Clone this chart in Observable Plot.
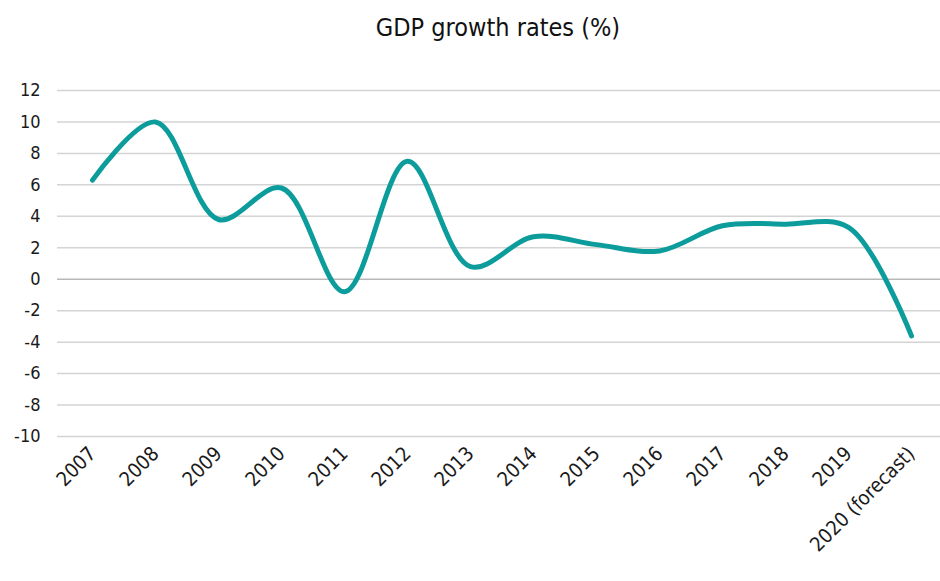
<!DOCTYPE html>
<html>
<head>
<meta charset="utf-8">
<script src="https://cdn.jsdelivr.net/npm/d3@7"></script>
<script src="https://cdn.jsdelivr.net/npm/@observablehq/plot@0.6"></script>
<style>
  html, body { margin: 0; padding: 0; background: #fff; }
  #wrap { width: 940px; height: 581px; overflow: hidden; }
  #title { height: 50px; width: 940px; text-align: center; font-family: "DejaVu Sans Condensed", "DejaVu Sans", sans-serif; font-stretch: condensed; font-size: 25px; color: #111; line-height: 56px; padding-left: 56px; box-sizing: border-box; }
  svg text { font-stretch: condensed; }
</style>
</head>
<body>
<div id="wrap">
  <div id="title">GDP growth rates (%)</div>
  <div id="chart"></div>
</div>
<script>
const years = ["2007", "2008", "2009", "2010", "2011", "2012", "2013", "2014", "2015", "2016", "2017", "2018", "2019", "2020 (forecast)"];
const growth = [6.3, 10.0, 3.8, 5.8, -0.8, 7.5, 0.8, 2.7, 2.2, 1.8, 3.4, 3.5, 3.3, -3.6];
const yTicks = [-10, -8, -6, -4, -2, 0, 2, 4, 6, 8, 10, 12];

const data = years.map((y, i) => ({year: y, value: growth[i]}));

const chart = Plot.plot({
  width: 940,
  height: 531,
  marginTop: 40,
  marginBottom: 145,
  marginLeft: 57,
  marginRight: 0,
  style: {fontFamily: "'DejaVu Sans Condensed', 'DejaVu Sans', sans-serif", fontSize: "17px", color: "#1a1a1a", background: "#fff"},
  x: {type: "point", domain: years, range: [89, 913], padding: 0},
  y: {domain: [-10, 12]},
  marks: [
    Plot.ruleY(yTicks.filter(d => d !== 0), {stroke: "#d4d4d4", strokeWidth: 1.5}),
    Plot.ruleY([0], {stroke: "#b8b8b8", strokeWidth: 1.5}),
    Plot.axisY({ticks: yTicks, tickFormat: d => String(d), tickSize: 0, tickPadding: 17, label: null, fontSize: 18}),
    Plot.axisX({tickSize: 0, tickPadding: 14, tickRotate: -45, label: null, fontSize: 20}),
    Plot.line(data, {x: "year", y: "value", stroke: "#0c9c9c", strokeWidth: 5, curve: "catmull-rom", strokeLinecap: "round"})
  ]
});
document.getElementById("chart").appendChild(chart);
</script>
</body>
</html>
